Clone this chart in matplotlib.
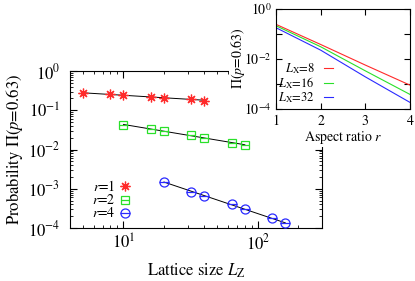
import numpy as np
import matplotlib
matplotlib.use('Agg')
import matplotlib.pyplot as plt
from matplotlib.patches import Rectangle
from matplotlib.ticker import LogLocator, FixedLocator, FixedFormatter, NullLocator, NullFormatter

plt.rcParams['font.family'] = ['STIXGeneral', 'DejaVu Serif']
plt.rcParams['mathtext.fontset'] = 'stix'

# main panel data: lattice size L_Z vs probability
L_r1 = [5, 8, 10, 16, 20, 32, 40]
P_r1 = [0.27, 0.255, 0.245, 0.222, 0.209, 0.19, 0.175]
L_r2 = [10, 16, 20, 32, 40, 64, 80]
P_r2 = [0.042, 0.0333, 0.030, 0.0229, 0.020, 0.0147, 0.013]
L_r4 = [20, 32, 40, 64, 80, 128, 160]
P_r4 = [1.51e-3, 8.4e-4, 6.5e-4, 4.0e-4, 3.05e-4, 1.77e-4, 1.32e-4]

# inset data: aspect ratio r vs probability
ratio = [1, 2, 3, 4]
P_L8 = [0.234, 0.037, 5.6e-3, 8.9e-4]
P_L16 = [0.206, 0.030, 3.3e-3, 3.8e-4]
P_L32 = [0.172, 0.022, 1.9e-3, 1.83e-4]

RED, GREEN, BLUE = '#ff2a2a', '#2ae02a', '#2a2aff'

fig = plt.figure(figsize=(4.15, 2.81), dpi=100)
ax = fig.add_axes([70/415, 1-228/281, 252/415, 157/281], zorder=0)

series = [(L_r1, P_r1, RED, (8, 2, 0), 7, '$r$=1'),
          (L_r2, P_r2, GREEN, 's', 6, '$r$=2'),
          (L_r4, P_r4, BLUE, 'o', 6.5, '$r$=4')]
leg_y = [0.2675, 0.1815, 0.0955]
for (L, P, c, m, ms, lab), ly in zip(series, leg_y):
    # power law fit line
    k, b = np.polyfit(np.log(L), np.log(P), 1)
    xs = np.array([L[0], L[-1]])
    ax.plot(xs, np.exp(b) * xs**k, color='black', lw=0.7, zorder=2)
    ax.plot(L, P, ls='none', marker=m, ms=ms, mfc='none', mec=c, mew=0.9, zorder=3)
    ax.plot(L, P, ls='none', marker='_', ms=ms, mec=c, mew=0.9, zorder=3)
    # legend entry, gnuplot style: right aligned text, sample on the right
    ax.text(0.179, ly, lab, transform=ax.transAxes, ha='right', va='center', fontsize=10)
    ax.plot([0.218], [ly], transform=ax.transAxes, marker=m, ms=ms, mfc='none', mec=c, mew=0.9)
    ax.plot([0.218], [ly], transform=ax.transAxes, marker='_', ms=ms, mec=c, mew=0.9)

ax.set_xscale('log')
ax.set_yscale('log')
ax.set_xlim(4, 300)
ax.set_ylim(1e-4, 1)
ax.xaxis.set_major_locator(FixedLocator([10, 100]))
ax.xaxis.set_major_formatter(FixedFormatter(['$10^1$', '$10^2$']))
ax.xaxis.set_minor_locator(LogLocator(base=10, subs=np.arange(2, 10), numticks=20))
ax.xaxis.set_minor_formatter(NullFormatter())
ax.yaxis.set_major_locator(FixedLocator([1e-4, 1e-3, 1e-2, 1e-1, 1]))
ax.yaxis.set_major_formatter(FixedFormatter(['$10^{-4}$', '$10^{-3}$', '$10^{-2}$', '$10^{-1}$', '$10^0$']))
ax.yaxis.set_minor_locator(LogLocator(base=10, subs=np.arange(2, 10), numticks=20))
ax.yaxis.set_minor_formatter(NullFormatter())
ax.tick_params(which='both', direction='in', top=True, right=True, labelsize=12)
ax.tick_params(which='major', length=5, width=0.8)
ax.tick_params(which='minor', length=2.5, width=0.6)
ax.tick_params(axis='y', pad=7)
ax.tick_params(axis='x', pad=4)
ax.set_xlabel('Lattice size $L_{\\mathrm{Z}}$', fontsize=12, labelpad=6)
ax.set_ylabel('Probability $\\Pi(p$=0.63)', fontsize=12, labelpad=2)

# white backing behind inset (hides the main frame there)
fig.add_artist(Rectangle((229/415, 1-137/281), 1-229/415, 137/281,
                         transform=fig.transFigure, facecolor='white', edgecolor='none', zorder=1))
fig.add_artist(Rectangle((265/415, 1-147/281), 1-265/415, 147/281,
                         transform=fig.transFigure, facecolor='white', edgecolor='none', zorder=1))

ins = fig.add_axes([276/415, 1-109/281, 134/415, 100.5/281], zorder=2)
inset_series = [(P_L8, RED, '$L_{\\mathrm{X}}$=8'),
                (P_L16, GREEN, '$L_{\\mathrm{X}}$=16'),
                (P_L32, BLUE, '$L_{\\mathrm{X}}$=32')]
for (P, c, lab), ly in zip(inset_series, [0.405, 0.26, 0.115]):
    ins.plot(ratio, P, color=c, lw=0.8)
    ins.text(0.291, ly, lab, transform=ins.transAxes, ha='right', va='center', fontsize=9)
    ins.plot([0.358, 0.425], [ly, ly], transform=ins.transAxes, color=c, lw=0.8)
ins.set_yscale('log')
ins.set_xlim(1, 4)
ins.set_ylim(1e-4, 1)
ins.set_xticks([1, 2, 3, 4])
ins.yaxis.set_major_locator(FixedLocator([1e-4, 1e-3, 1e-2, 1e-1, 1]))
ins.yaxis.set_major_formatter(FixedFormatter(['$10^{-4}$', '', '$10^{-2}$', '', '$10^0$']))
ins.yaxis.set_minor_locator(NullLocator())
ins.tick_params(which='both', direction='in', top=True, right=True, labelsize=10, length=4, width=0.8)
ins.tick_params(axis='y', pad=3)
ins.tick_params(axis='x', pad=4)
ins.set_xlabel('Aspect ratio $r$', fontsize=10, labelpad=1)
ins.set_ylabel('$\\Pi(p$=0.63)', fontsize=10, labelpad=-2)

fig.savefig('out.png', dpi=100)
